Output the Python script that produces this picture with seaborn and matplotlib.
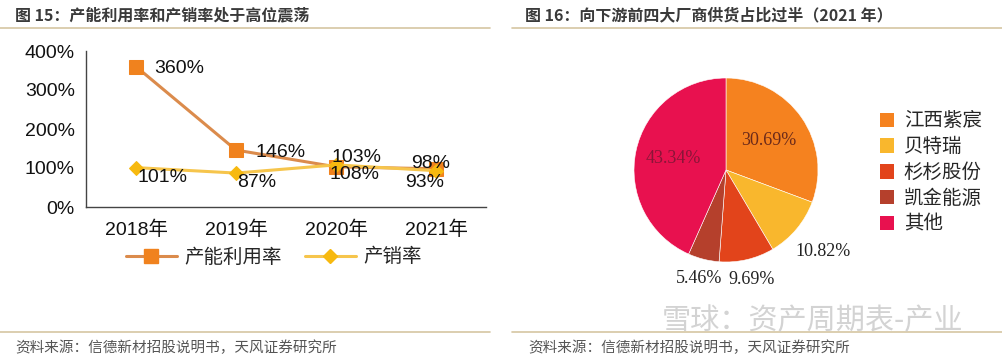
import numpy as np
import pandas as pd
import matplotlib
matplotlib.use('Agg')
import matplotlib.pyplot as plt
import seaborn as sns
from matplotlib.patches import Patch
from matplotlib.lines import Line2D

# 数据
years = ['2018年', '2019年', '2020年', '2021年']
capacity_util = [360, 146, 103, 98]   # 产能利用率 (%)
sales_ratio = [101, 87, 108, 93]      # 产销率 (%)
y_ticks = [0, 100, 200, 300, 400]

companies = ['江西紫宸', '贝特瑞', '杉杉股份', '凯金能源', '其他']
shares = [30.69, 10.82, 9.69, 5.46, 43.34]

title_left = '图 15：产能利用率和产销率处于高位震荡'
title_right = '图 16：向下游前四大厂商供货占比过半（2021 年）'
source_text = '资料来源：信德新材招股说明书，天风证券研究所'
watermark = '雪球：资产周期表-产业'

# 样式
sns.set_theme(style='white')
plt.rcParams['font.family'] = ['Liberation Sans', 'Noto Sans CJK SC']
cjk = ['Noto Sans CJK SC', 'DejaVu Sans']

orange_line = '#DB8B4C'
orange_mark = '#F0821E'
yellow_line = '#F6C54C'
yellow_mark = '#F7B90F'
pie_colors = ['#F5821F', '#F9B72D', '#E2441B', '#B5402C', '#E8114F']

fig = plt.figure(figsize=(10.02, 3.58), dpi=100)
fig.patch.set_facecolor('white')

# 标题和分隔线
fig.text(15 / 1002, 1 - 15 / 358, title_left, family=cjk, weight='bold',
         fontsize=11.5, color='#3A3A3A', va='center', ha='left')
fig.text(525 / 1002, 1 - 15 / 358, title_right, family=cjk, weight='bold',
         fontsize=11.5, color='#3A3A3A', va='center', ha='left')
for x0, x1 in [(0, 490), (512, 1002)]:
    for yy in (28, 332):
        fig.add_artist(Line2D([x0 / 1002, x1 / 1002], [1 - yy / 358] * 2,
                              color='#D5C6A2', lw=1.2, transform=fig.transFigure))
fig.text(15 / 1002, 1 - 348 / 358, source_text, family=cjk, fontsize=10.5,
         color='#555555', va='center', ha='left')
fig.text(528 / 1002, 1 - 348 / 358, source_text, family=cjk, fontsize=10.5,
         color='#555555', va='center', ha='left')

# 左图：折线
ax = fig.add_axes([86 / 1002, 151 / 358, 400 / 1002, 156 / 358])
df = pd.DataFrame({'x': range(len(years)), 'cap': capacity_util, 'sale': sales_ratio})
sns.lineplot(data=df, x='x', y='cap', ax=ax, color=orange_line, lw=2.2,
             marker='s', markersize=10, markerfacecolor=orange_mark,
             markeredgecolor=orange_mark, label='产能利用率', legend=False)
sns.lineplot(data=df, x='x', y='sale', ax=ax, color=yellow_line, lw=2.2,
             marker='D', markersize=7.5, markerfacecolor=yellow_mark,
             markeredgecolor=yellow_mark, label='产销率', legend=False)

ax.set_xlim(-0.5, len(years) - 0.5)
ax.set_ylim(0, 400)
ax.set_yticks(y_ticks)
ax.set_yticklabels([f'{v}%' for v in y_ticks])
ax.set_xticks(range(len(years)))
ax.set_xticklabels(years)
ax.set_xticks(np.arange(-0.5, len(years), 1.0), minor=True)
ax.tick_params(axis='x', which='major', length=0, pad=10, labelsize=14, colors='#111111')
ax.tick_params(axis='x', which='minor', length=5, width=1, color='#444444', direction='out')
ax.tick_params(axis='y', length=4, width=1, color='#444444', direction='out',
               labelsize=14, labelcolor='#111111', pad=4)
ax.set_xlabel('')
ax.set_ylabel('')
for s in ['top', 'right']:
    ax.spines[s].set_visible(False)
for s in ['left', 'bottom']:
    ax.spines[s].set_color('#444444')
    ax.spines[s].set_linewidth(1)
ax.set_facecolor('white')

# 数据标签（像素偏移）
cap_off = [(18, -2, 'left'), (20, -2, 'left'), (-5, 9, 'left'), (-25, 5, 'left')]
sale_off = [(2, -10, 'left'), (1, -9, 'left'), (-7, -10, 'left'), (-31, -12, 'left')]
for i, v in enumerate(capacity_util):
    dx, dy, ha = cap_off[i]
    ax.annotate(f'{v}%', (i, v), xytext=(dx / 1.389, dy / 1.389), textcoords='offset points',
                ha=ha, va='center', fontsize=14, color='#111111')
for i, v in enumerate(sales_ratio):
    dx, dy, ha = sale_off[i]
    ax.annotate(f'{v}%', (i, v), xytext=(dx / 1.389, dy / 1.389), textcoords='offset points',
                ha=ha, va='center', fontsize=14, color='#111111')

handles = [Line2D([], [], color=orange_line, lw=2.2, marker='s', markersize=10,
                  markerfacecolor=orange_mark, markeredgecolor=orange_mark),
           Line2D([], [], color=yellow_line, lw=2.2, marker='D', markersize=7.5,
                  markerfacecolor=yellow_mark, markeredgecolor=yellow_mark)]
fig.legend(handles, ['产能利用率', '产销率'], loc='center',
           bbox_to_anchor=(274 / 1002, 1 - 257 / 358), ncol=2, frameon=False,
           prop={'family': cjk, 'size': 14}, handlelength=2.6, handletextpad=0.4,
           columnspacing=1.2)

# 右图：饼图
pax = fig.add_axes([634 / 1002, 96 / 358, 184 / 1002, 184 / 358])
wedges, texts, autotexts = pax.pie(shares, colors=pie_colors, startangle=90,
                                   counterclock=False, autopct='%.2f%%',
                                   pctdistance=0.58,
                                   wedgeprops={'edgecolor': 'white', 'linewidth': 0.4},
                                   textprops={'family': ['Liberation Serif'], 'fontsize': 13})
pax.set_xlim(-1, 1)
pax.set_ylim(-1, 1)
label_r = [0.57, 1.38, 1.22, 1.22, 0.58]
label_c = ['#6B2A1A', '#222222', '#222222', '#222222', '#8A1538']
for w, t, r, c in zip(wedges, autotexts, label_r, label_c):
    ang = np.deg2rad((w.theta1 + w.theta2) / 2)
    t.set_position((r * np.cos(ang), r * np.sin(ang)))
    t.set_color(c)
    t.set_clip_on(False)

pie_handles = [Patch(facecolor=c, edgecolor='none') for c in pie_colors]
fig.legend(pie_handles, companies, loc='upper left',
           bbox_to_anchor=(862 / 1002, 1 - 93 / 358), frameon=False,
           prop={'family': cjk, 'size': 14}, handlelength=0.75, handleheight=0.75,
           handletextpad=0.5, labelspacing=0.25)

# 水印
fig.text(662 / 1002, 1 - 321 / 358, watermark, family=cjk, fontsize=21,
         color='#C8C8C8', alpha=0.8, va='center', ha='left')

fig.savefig('out.png', dpi=100, facecolor='white')
